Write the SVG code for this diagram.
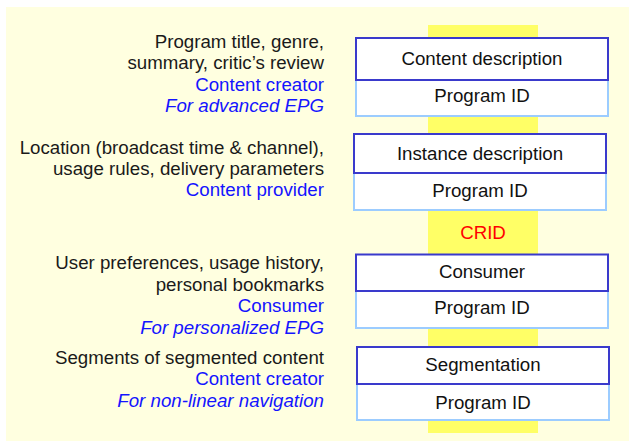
<svg xmlns="http://www.w3.org/2000/svg" width="629" height="441" viewBox="0 0 629 441">
<style>
.t{font-family:"Liberation Sans",Arial,sans-serif;font-size:18.7px;}
.l{text-anchor:end;fill:#1a1a1a;}
.b{text-anchor:end;fill:#1414ff;}
.i{font-style:italic;}
.c{text-anchor:middle;fill:#111;}
.hd{fill:#fff;stroke:#3a3acc;stroke-width:2;}
.id{fill:#fff;stroke:#9cccff;stroke-width:2;}
</style>
<rect x="6" y="7" width="623" height="434" fill="#ffffe0"/>
<rect x="428" y="25" width="110" height="408" fill="#ffff66"/>
<g id="texts">
<text class="t l" x="324" y="47.5">Program title, genre,</text>
<text class="t l" x="324" y="69">summary, critic’s review</text>
<text class="t b" x="324" y="90.5">Content creator</text>
<text class="t b i" x="324" y="112">For advanced EPG</text>
<text class="t l" x="324" y="154">Location (broadcast time &amp; channel),</text>
<text class="t l" x="324" y="175">usage rules, delivery parameters</text>
<text class="t b" x="324" y="196">Content provider</text>
<text class="t l" x="324" y="269">User preferences, usage history,</text>
<text class="t l" x="324" y="290.5">personal bookmarks</text>
<text class="t b" x="324" y="312">Consumer</text>
<text class="t b i" x="324" y="333.5">For personalized EPG</text>
<text class="t l" x="324" y="363.5">Segments of segmented content</text>
<text class="t b" x="324" y="385">Content creator</text>
<text class="t b i" x="324" y="406.5">For non-linear navigation</text>
<text class="t" x="483" y="238.5" text-anchor="middle" fill="#ff0000">CRID</text>
</g>
<g id="content">
<rect class="id" x="356" y="80" width="252" height="36"/>
<rect class="hd" x="356" y="38" width="252" height="42"/>
<text class="t c" x="482" y="64.5">Content description</text>
<text class="t c" x="482" y="102">Program ID</text>
</g>
<g id="instance">
<rect class="id" x="354" y="173" width="252" height="37"/>
<rect class="hd" x="354" y="134" width="252" height="39"/>
<text class="t c" x="480" y="160">Instance description</text>
<text class="t c" x="480" y="197">Program ID</text>
</g>
<g id="consumer">
<rect class="id" x="356" y="291" width="252" height="37"/>
<rect class="hd" x="356" y="254.5" width="252" height="36.5"/>
<text class="t c" x="482" y="278">Consumer</text>
<text class="t c" x="482" y="314">Program ID</text>
</g>
<g id="segmentation">
<rect class="id" x="357" y="384" width="252" height="36"/>
<rect class="hd" x="357" y="347" width="252" height="37"/>
<text class="t c" x="483" y="370.5">Segmentation</text>
<text class="t c" x="483" y="408.5">Program ID</text>
</g>
<g id="connectors"></g>
</svg>
